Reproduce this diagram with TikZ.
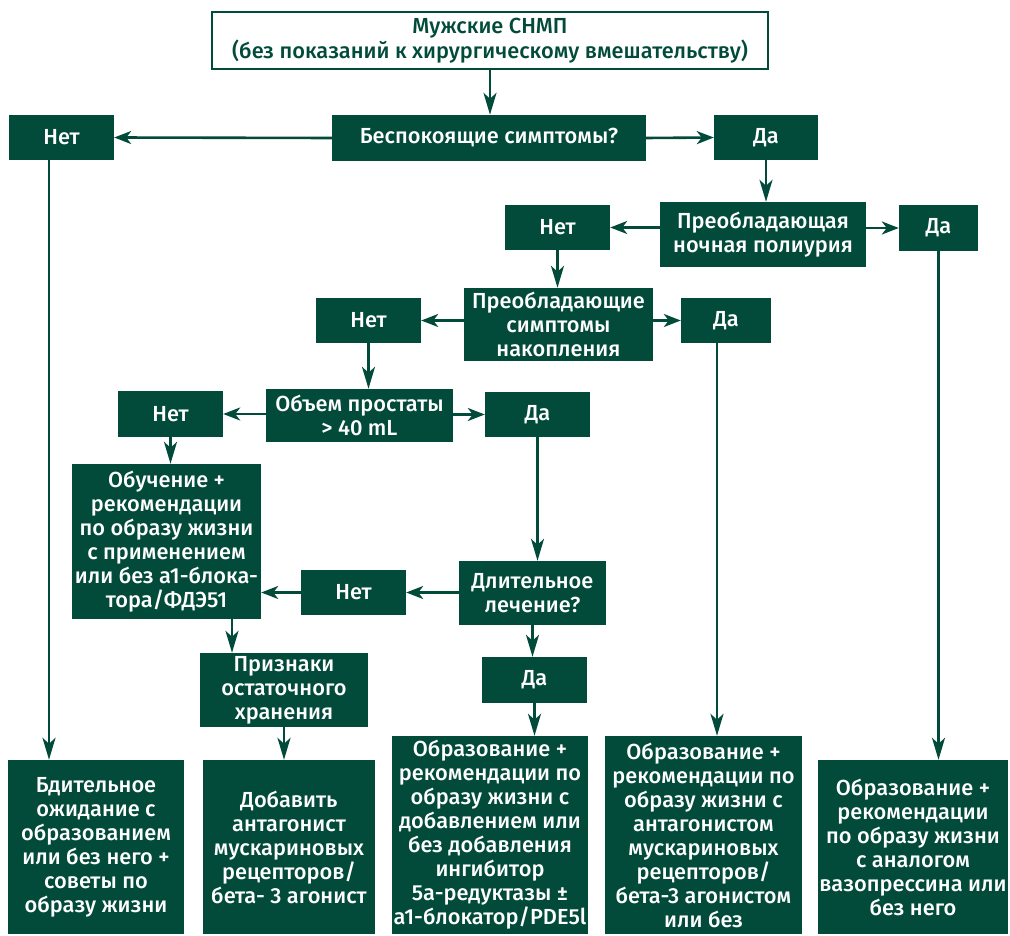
\documentclass[tikz,border=0pt]{standalone}
\usepackage{fontspec}
\setmainfont{Fira Sans}[UprightFont=* Medium]
\usetikzlibrary{arrows.meta}
\definecolor{dg}{RGB}{2,75,58}
\newcommand\placebox[7]{%
  \node[#6, minimum width={(#3-#2)*1pt}, minimum height={(#5-#4)*1pt}]
    (#1) at ({(#2+#3)/2},{(#4+#5)/2}) {#7};}
\begin{document}
\begin{tikzpicture}[x=1pt,y=-1pt,
  box/.style={fill=dg, text=white, inner sep=0pt, align=center,
    font=\fontsize{21.8}{24}\selectfont},
  titlebox/.style={draw=dg, line width=2pt, fill=white, text=dg, inner sep=0pt,
    align=center, font=\fontsize{21.8}{25}\selectfont},
  link/.style={draw=dg, line width=2.6pt},
  harr/.style={link, -{Stealth[length=17pt,width=13pt,inset=5pt]}},
  varr/.style={link, -{Stealth[length=22pt,width=13pt,inset=6pt]}}]
\useasboundingbox (0,0) rectangle (1010,936);

% decision chain
\placebox{top}{212}{768}{12}{69}{titlebox}{Мужские СНМП\\(без показаний к хирургическому вмешательству)}
\placebox{q1}{332}{646}{115}{161}{box}{Беспокоящие симптомы?}
\placebox{n1}{9}{114}{115}{160}{box}{Нет}
\placebox{y1}{714}{818}{115}{160}{box}{Да}
\placebox{q2}{660}{866}{202}{267}{box}{Преобладающая\\ночная полиурия}
\placebox{n2}{505}{610}{205}{250}{box}{Нет}
\placebox{y2}{899}{978}{205}{251}{box}{Да}
\placebox{q3}{464}{653}{288}{361}{box}{Преобладающие\\симптомы\\накопления}
\placebox{n3}{316}{421}{298}{343}{box}{Нет}
\placebox{y3}{681}{771}{298}{343}{box}{Да}
\placebox{q4}{266}{453}{389}{442}{box}{Объем простаты\\> 40 mL}
\placebox{n4}{118}{223}{391}{437}{box}{Нет}
\placebox{y4}{485}{590}{392}{437}{box}{Да}
\placebox{edu}{72}{261}{464}{619}{box}{Обучение +\\рекомендации\\по образу жизни\\с применением\\или без а1-блока-\\тора/ФДЭ51}
\placebox{q5}{459}{606}{561}{625}{box}{Длительное\\лечение?}
\placebox{n5}{301}{406}{570}{615}{box}{Нет}
\placebox{y5}{482}{587}{657}{703}{box}{Да}
\placebox{res}{200}{368}{653}{727}{box}{Признаки\\остаточного\\хранения}

% outcomes
\placebox{b1}{8}{184}{760}{934}{box}{Бдительное\\ожидание с\\образованием\\или без него +\\советы по\\образу жизни}
\placebox{b2}{203}{375}{760}{934}{box}{Добавить\\антагонист\\мускариновых\\рецепторов/\\бета- 3 агонист}
\placebox{b3}{392}{588}{736}{934}{box}{Образование +\\рекомендации по\\образу жизни с\\добавлением или\\без добавления\\ингибитор\\5а-редуктазы ±\\а1-блокатор/PDE5l}
\placebox{b4}{605}{802}{736}{934}{box}{Образование +\\рекомендации по\\образу жизни с\\антагонистом\\мускариновых\\рецепторов/\\бета-3 агонистом\\или без}
\placebox{b5}{818}{1008}{760}{934}{box}{Образование +\\рекомендации\\по образу жизни\\с аналогом\\вазопрессина или\\без него}

% connectors
\draw[varr] (top.south) -- (top.south |- q1.north);
\draw[harr] (q1.west) -- (n1.east);
\draw[harr] (q1.east) -- (y1.west);
\draw[varr] (y1.south) -- (y1.south |- q2.north);
\draw[harr] (q2.west |- n2.east) -- (n2.east);
\draw[harr] (q2.east |- y2.west) -- (y2.west);
\draw[varr] (n2.south) -- (n2.south |- q3.north);
\draw[harr] (q3.west |- n3.east) -- (n3.east);
\draw[harr] (q3.east |- y3.west) -- (y3.west);
\draw[varr] (n3.south) -- (n3.south |- q4.north);
\draw[harr] (q4.west |- n4.east) -- (n4.east);
\draw[harr] (q4.east |- y4.west) -- (y4.west);
\draw[varr] (n4.south) -- (n4.south |- edu.north);
\draw[varr] (y4.south) -- (y4.south |- q5.north);
\draw[harr] (q5.west |- n5.east) -- (n5.east);
\draw[harr] (n5.west) -- (edu.east |- n5.west);
\draw[varr] (q5.south) -- (q5.south |- y5.north);
\draw[varr] (y5.south) -- (y5.south |- b3.north);
\coordinate (eduout) at (232,619);
\draw[varr] (eduout) -- (eduout |- res.north);
\draw[varr] (res.south) -- (res.south |- b2.north);
\coordinate (n1out) at (49,160);
\draw[varr] (n1out) -- (n1out |- b1.north);
\coordinate (y3out) at (717,343);
\draw[varr] (y3out) -- (y3out |- b4.north);
\draw[varr] (y2.south) -- (y2.south |- b5.north);
\end{tikzpicture}
\end{document}
